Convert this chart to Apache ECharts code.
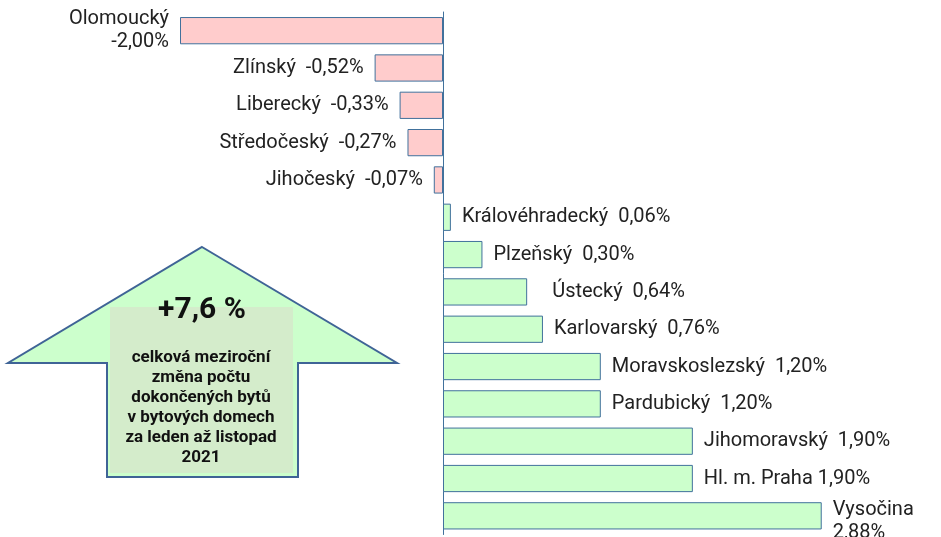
<!DOCTYPE html>
<html>
<head>
    <meta charset="UTF-8">
    <title>Dokončené byty podle krajů</title>
    <script src="https://cdn.jsdelivr.net/npm/echarts@6/dist/echarts.min.js"></script>
</head>
<body style="margin:0">
<div id="chart" style="width:941px;height:537px;"></div>
<script>
    // kraje shora dolů
    var regions = ['Olomoucký', 'Zlínský', 'Liberecký', 'Středočeský', 'Jihočeský',
        'Královéhradecký', 'Plzeňský', 'Ústecký', 'Karlovarský', 'Moravskoslezský',
        'Pardubický', 'Jihomoravský', 'Hl. m. Praha', 'Vysočina'];
    var changes = [-2.00, -0.52, -0.33, -0.27, -0.07, 0.06, 0.30, 0.64, 0.76, 1.20, 1.20, 1.90, 1.90, 2.88];
    var separators = ['\n', '  ', '  ', '  ', '  ', '  ', '  ', '  ', '  ', '  ', '  ', '  ', ' ', '\n'];
    var totalText = '+7,6 %';
    var noteLines = ['celková meziroční', 'změna počtu', 'dokončených bytů',
        'v bytových domech', 'za leden až listopad', '2021'];

    var border = '#41719c';
    var font = 'Roboto, "Noto Sans", sans-serif';

    var barData = changes.map(function (v, i) {
        var item = {
            value: v,
            itemStyle: {color: v < 0 ? '#ffcccc' : '#ccffcc'},
            label: {position: v < 0 ? 'left' : 'right'}
        };
        if (regions[i] === 'Ústecký') item.label.distance = 25;
        if (regions[i] === 'Olomoucký') item.label.align = 'right';
        if (regions[i] === 'Vysočina') item.label.offset = [0, 6];
        return item;
    });

    var myChart = echarts.init(document.getElementById('chart'));
    var option = {
        animation: false,
        grid: {left: 180, right: 103.5, top: 12, bottom: 2.5},
        xAxis: {
            type: 'value', min: -2, max: 3,
            axisLine: {show: false}, axisTick: {show: false},
            axisLabel: {show: false}, splitLine: {show: false}
        },
        yAxis: {
            type: 'category', data: regions, inverse: true,
            axisLine: {show: true, onZero: true, lineStyle: {color: border, width: 1}},
            axisTick: {show: false}, axisLabel: {show: false}
        },
        series: [{
            type: 'bar',
            data: barData,
            barCategoryGap: '27%',
            itemStyle: {borderColor: border, borderWidth: 1},
            label: {
                show: true,
                distance: 11,
                color: '#222',
                fontFamily: font,
                fontSize: 20,
                lineHeight: 23,
                formatter: function (p) {
                    return regions[p.dataIndex] + separators[p.dataIndex] +
                        changes[p.dataIndex].toFixed(2).replace('.', ',') + '%';
                }
            }
        }],
        graphic: [
            {
                type: 'polygon', z: 10,
                shape: {points: [[202, 247], [397, 363], [298, 363], [298, 477], [107, 477], [107, 363], [8, 363]]},
                style: {fill: '#ccffcc', stroke: '#3f6496', lineWidth: 2}
            },
            {
                type: 'rect', z: 11,
                shape: {x: 110, y: 307, width: 183, height: 166},
                style: {fill: '#d4eccb'}
            },
            {
                type: 'text', z: 12,
                style: {
                    x: 202, y: 310, text: totalText, align: 'center', verticalAlign: 'middle',
                    fontFamily: font, fontWeight: 'bold', fontSize: 30, fill: '#111'
                }
            },
            {
                type: 'text', z: 12,
                style: {
                    x: 201, y: 348, text: noteLines.join('\n'), align: 'center', verticalAlign: 'top',
                    fontFamily: font, fontWeight: 'bold', fontSize: 17, lineHeight: 20, fill: '#111'
                }
            }
        ]
    };

    myChart.setOption(option);
</script>
</body>
</html>
